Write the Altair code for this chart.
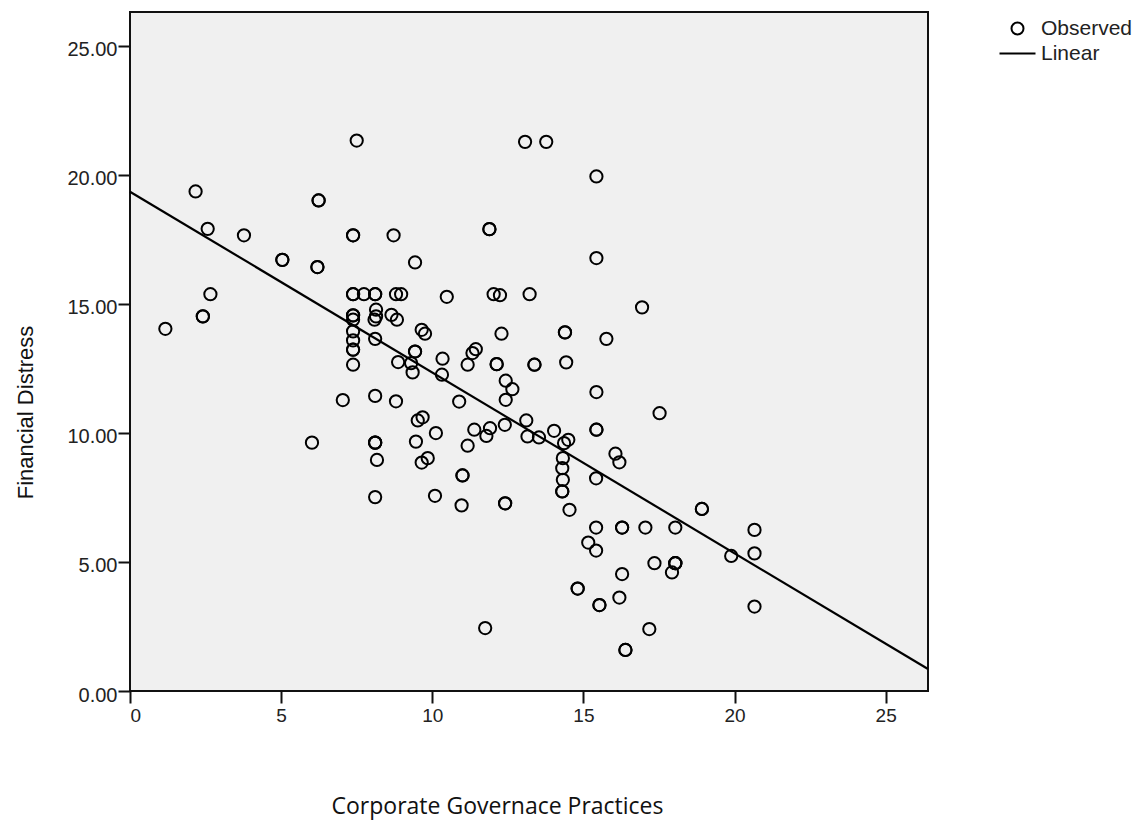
import altair as alt
import pandas as pd

# Observed points (Corporate Governance Practices, Financial Distress)
cg_x = [1.17, 2.17, 2.41, 2.41, 2.57, 2.66, 3.77, 5.04, 5.04, 6.02, 6.24, 6.24, 6.20, 6.20,
        7.04, 7.38, 7.38, 7.38, 7.38, 7.38, 7.38, 7.38, 7.38, 7.38, 7.38, 7.38, 7.38,
        7.50, 7.74, 8.11, 8.11, 8.14, 8.14, 8.09, 8.11, 8.11, 8.11, 8.11, 8.11, 8.17, 8.11,
        8.65, 8.72, 8.80, 8.97, 8.83, 8.80, 8.87, 9.30, 9.35, 9.43, 9.43, 9.43, 9.65, 9.76,
        9.46, 9.52, 9.68, 9.65, 9.85, 10.12, 10.09, 10.34, 10.32, 10.48, 10.89, 10.97,
        11.00, 11.00, 11.17, 11.17, 11.33, 11.44, 11.39, 11.91, 11.79, 11.75, 11.89, 11.89,
        12.03, 12.24, 12.29, 12.13, 12.13, 12.43, 12.65, 12.43, 12.40, 12.41, 12.41,
        13.07, 13.77, 13.22, 13.38, 13.38, 13.11, 13.15, 13.53, 14.03, 14.39, 14.39, 14.43,
        14.36, 14.50, 14.32, 14.30, 14.32, 14.30, 14.30, 14.54, 14.81, 14.81,
        15.43, 15.43, 15.43, 15.43, 15.43, 15.42, 15.42, 15.16, 15.42, 15.53, 15.53, 15.76,
        16.06, 16.19, 16.28, 16.28, 16.28, 16.19, 16.39, 16.39, 16.94, 17.05, 17.18, 17.35,
        17.52, 18.04, 18.04, 18.04, 18.04, 17.93, 18.92, 18.92, 19.89, 20.66, 20.66, 20.66]
fd_y = [14.03, 19.35, 14.51, 14.51, 17.90, 15.37, 17.65, 16.70, 16.70, 9.62, 19.00, 19.00, 16.42, 16.42,
        11.27, 17.65, 17.65, 15.37, 15.37, 14.55, 14.55, 14.38, 13.93, 13.58, 13.22, 13.22, 12.64,
        21.32, 15.37, 15.37, 15.37, 14.77, 14.51, 14.38, 13.64, 11.43, 9.62, 9.62, 9.62, 8.95, 7.51,
        14.57, 17.65, 15.37, 15.37, 14.38, 11.22, 12.74, 12.70, 12.34, 16.60, 13.15, 13.15, 13.99, 13.84,
        9.66, 10.48, 10.60, 8.85, 9.02, 9.99, 7.56, 12.87, 12.25, 15.27, 11.21, 7.19,
        8.35, 8.35, 9.50, 12.64, 13.09, 13.24, 10.12, 10.18, 9.88, 2.44, 17.89, 17.89,
        15.37, 15.33, 13.84, 12.66, 12.66, 12.02, 11.69, 11.28, 10.31, 7.27, 7.27,
        21.27, 21.27, 15.37, 12.64, 12.64, 10.48, 9.86, 9.82, 10.08, 13.89, 13.89, 12.73,
        9.60, 9.73, 9.02, 8.63, 8.18, 7.73, 7.73, 7.02, 3.97, 3.97,
        19.93, 16.77, 11.58, 10.12, 10.12, 8.24, 6.33, 5.75, 5.44, 3.33, 3.33, 13.64,
        9.19, 8.86, 6.33, 6.33, 4.53, 3.62, 1.59, 1.59, 14.86, 6.33, 2.40, 4.95,
        10.76, 6.33, 4.95, 4.95, 4.95, 4.59, 7.05, 7.05, 5.23, 6.24, 5.33, 3.27]

# Linear fit line (endpoints)
fit_x = [0.0, 26.4]
fit_y = [19.34, 0.85]

x_ticks = [0, 5, 10, 15, 20, 25]
y_ticks = [0, 5, 10, 15, 20, 25]

n = min(len(cg_x), len(fd_y))
pts = pd.DataFrame({"x": cg_x[:n], "y": fd_y[:n], "series": ["Observed"] * n})
fit = pd.DataFrame({"x": fit_x, "y": fit_y})

x_scale = alt.Scale(domain=[0, 26.4], nice=False, zero=False)
y_scale = alt.Scale(domain=[0, 26.3], nice=False, zero=False)

x_axis = alt.Axis(
    title="Corporate Governace Practices", values=x_ticks, format="d", grid=False,
    titleFont="Open Sans", titleFontSize=23, titleFontWeight="normal", titleColor="#111",
    titleX=367, titleY=122, titleAlign="center", titleBaseline="alphabetic",
    labelFont="Liberation Sans", labelFontSize=19, labelColor="#222", labelPadding=3,
    tickSize=12, tickWidth=2, tickColor="#111", domain=False,
)
y_axis = alt.Axis(
    title="Financial Distress", values=y_ticks, format=".2f", grid=False,
    titleFont="Liberation Sans", titleFontSize=22, titleFontWeight="normal", titleColor="#111",
    titleX=-98, titleY=400, titleAngle=270, titleAlign="center", titleBaseline="alphabetic",
    labelFont="Liberation Sans", labelFontSize=20, labelColor="#222", labelPadding=1,
    labelOffset=4, tickSize=12, tickWidth=2, tickColor="#111", domain=False,
)

points = alt.Chart(pts).mark_point(
    shape="circle", filled=False, size=150, stroke="black", strokeWidth=2, opacity=1
).encode(
    x=alt.X("x:Q", scale=x_scale, axis=x_axis),
    y=alt.Y("y:Q", scale=y_scale, axis=y_axis),
    shape=alt.Shape(
        "series:N",
        scale=alt.Scale(domain=["Observed", "Linear"], range=["circle", "M-3.0,0L3.0,0"]),
        legend=alt.Legend(
            title=None, orient="none", legendX=877, legendY=6,
            labelFont="Liberation Sans", labelFontSize=21, labelColor="#222",
            symbolSize=144, symbolStrokeColor="black", symbolFillColor="transparent",
            symbolStrokeWidth=2, labelOffset=13, rowPadding=3,
        ),
    ),
)

line = alt.Chart(fit).mark_line(color="black", strokeWidth=2.2).encode(
    x=alt.X("x:Q", scale=x_scale),
    y=alt.Y("y:Q", scale=y_scale),
)

chart = alt.layer(points, line).properties(
    width=798, height=679,
    padding={"left": 130, "top": 12, "right": 218, "bottom": 132},
    autosize=alt.AutoSizeParams(type="none"),
    background="white",
).configure_view(
    fill="#f0f0f0", stroke="#111", strokeWidth=2
)

chart.save("out.html", embed_options={"renderer": "svg", "actions": False})
